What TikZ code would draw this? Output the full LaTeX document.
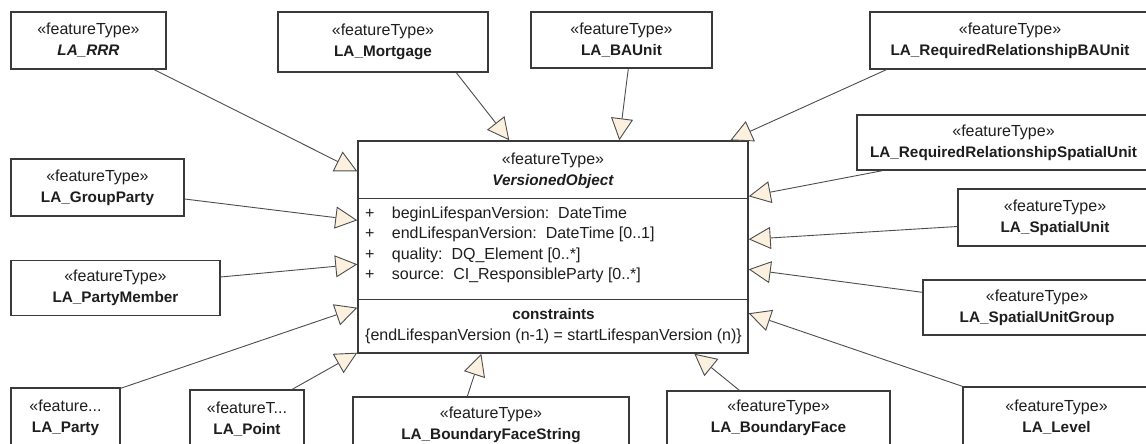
\documentclass[tikz,border=0pt]{standalone}
\usepackage{fontspec}
\setmainfont{Liberation Sans}
\usetikzlibrary{arrows.meta,calc}
\definecolor{afill}{HTML}{FCF0DF}
\definecolor{bline}{HTML}{3A3A3A}
\definecolor{cline}{HTML}{4D4D4D}
\definecolor{txt}{HTML}{1E1E1E}
\newcommand\st{«featureType»}
\newcommand\nm[1]{{\fontsize{15.3}{21}\selectfont\bfseries #1}}
\newcommand\nmi[1]{{\fontsize{15.3}{21}\selectfont\bfseries\itshape #1}}
\begin{document}
\begin{tikzpicture}[x=1pt,y=-1pt,
  box/.style={draw=bline,line width=1.4pt,fill=white,rectangle,inner sep=0pt,align=center,text=txt,font=\fontsize{16}{21}\selectfont,execute at begin node={\rule{0pt}{16.5pt}}},
  lbl/.style={inner sep=0pt,align=center,text=txt,font=\fontsize{16}{21}\selectfont,execute at begin node={\rule{0pt}{16.5pt}}},
  attrlbl/.style={inner sep=0pt,anchor=west,align=left,text=txt,font=\fontsize{16}{20.4}\selectfont},
  divider/.style={draw=bline,line width=1.4pt},
  gen/.style={draw=cline,line width=0.9pt,-{Triangle[length=22pt,width=22pt,fill=afill]}}]
\useasboundingbox (0,0) rectangle (1146,444);
\fill[white] (0,0) rectangle (1146,444);
\begin{scope}
\clip (0,0) rectangle (1146,444);
% central class
\node[box,minimum width=390pt,minimum height=212pt,execute at begin node={}] (vo) at (553,247) {};
\draw[divider] ($(vo.north west)+(0,58)$) -- ($(vo.north east)+(0,58)$);
\draw[divider] ($(vo.north west)+(0,159)$) -- ($(vo.north east)+(0,159)$);
\node[lbl] (voh) at (553,170.5) {\st\\\nmi{VersionedObject}};
\node[attrlbl] (voa) at (365,245) {%
\begin{tabular}{@{}l@{\hspace{17.4pt}}l@{}}
+ & beginLifespanVersion:\ \ DateTime\\
+ & endLifespanVersion:\ \ DateTime [0..1]\\
+ & quality:\ \ DQ\_Element [0..*]\\
+ & source:\ \ CI\_ResponsibleParty [0..*]
\end{tabular}};
\node[lbl] (voc) at (553.5,326.5) {\nm{constraints}\\\{endLifespanVersion (n-1) = startLifespanVersion (n)\}};
% surrounding classes
\node[box,minimum width=155pt,minimum height=57pt] (rrr) at (88.5,40.5) {\st\\\nmi{LA\_RRR}};
\node[box,minimum width=210pt,minimum height=60pt] (mort) at (383,42) {\st\\\nm{LA\_Mortgage}};
\node[box,minimum width=181pt,minimum height=56pt] (ba) at (621.5,40) {\st\\\nm{LA\_BAUnit}};
\node[box,minimum width=280pt,minimum height=57pt] (rrba) at (1010,40.5) {\st\\\nm{LA\_RequiredRelationshipBAUnit}};
\node[box,minimum width=293pt,minimum height=55pt] (rrsu) at (1003.5,142.5) {\st\\\nm{LA\_RequiredRelationshipSpatialUnit}};
\node[box,minimum width=194pt,minimum height=57pt] (su) at (1055,217.5) {\st\\\nm{LA\_SpatialUnit}};
\node[box,minimum width=228pt,minimum height=55pt] (sug) at (1037,307.5) {\st\\\nm{LA\_SpatialUnitGroup}};
\node[box,minimum width=187pt,minimum height=60pt] (level) at (1056.5,417) {\st\\\nm{LA\_Level}};
\node[box,minimum width=223pt,minimum height=54pt] (bf) at (778.5,418) {\st\\\nm{LA\_BoundaryFace}};
\node[box,minimum width=276pt,minimum height=55pt] (bfs) at (491,424.5) {\st\\\nm{LA\_BoundaryFaceString}};
\node[box,minimum width=114pt,minimum height=58pt] (point) at (247,419) {«featureT...\\\nm{LA\_Point}};
\node[box,minimum width=109pt,minimum height=59pt] (party) at (65.5,417.5) {«feature...\\\nm{LA\_Party}};
\node[box,minimum width=209pt,minimum height=54.6pt] (pm) at (115.5,288) {\st\\\nm{LA\_PartyMember}};
\node[box,minimum width=173pt,minimum height=57pt] (gp) at (97.5,187.5) {\st\\\nm{LA\_GroupParty}};
% generalisations
\draw[gen] ($(rrr.south west)+(144,0)$) -- ($(vo.north west)+(0,31)$);
\draw[gen] ($(mort.south west)+(179,0)$) -- ($(vo.north west)+(152,0)$);
\draw[gen] ($(ba.south west)+(98,0)$) -- ($(vo.north west)+(262,0)$);
\draw[gen] ($(rrba.south west)+(17,0)$) -- ($(vo.north west)+(373,0)$);
\draw[gen] ($(rrsu.south west)+(26,0)$) -- ($(vo.north east)+(0,56)$);
\draw[gen] ($(su.west)+(0,9)$) -- ($(vo.north east)+(0,99)$);
\draw[gen] ($(sug.north west)+(0,13)$) -- ($(vo.north east)+(0,129)$);
\draw[gen] (level.north west) -- ($(vo.north east)+(0,173)$);
\draw[gen] ($(bf.north west)+(73,0)$) -- ($(vo.south west)+(337,0)$);
\draw[gen] ($(bfs.north west)+(115,0)$) -- ($(vo.south west)+(124,0)$);
\draw[gen] ($(point.north west)+(103,0)$) -- ($(vo.south west)+(0,-1)$);
\draw[gen] ($(party.north east)+(0,1)$) -- ($(vo.south west)+(0,-46)$);
\draw[gen] ($(pm.east)+(0,-11)$) -- ($(vo.north west)+(0,124)$);
\draw[gen] ($(gp.east)+(0,11.5)$) -- ($(vo.north west)+(0,80)$);
\end{scope}
\end{tikzpicture}
\end{document}
